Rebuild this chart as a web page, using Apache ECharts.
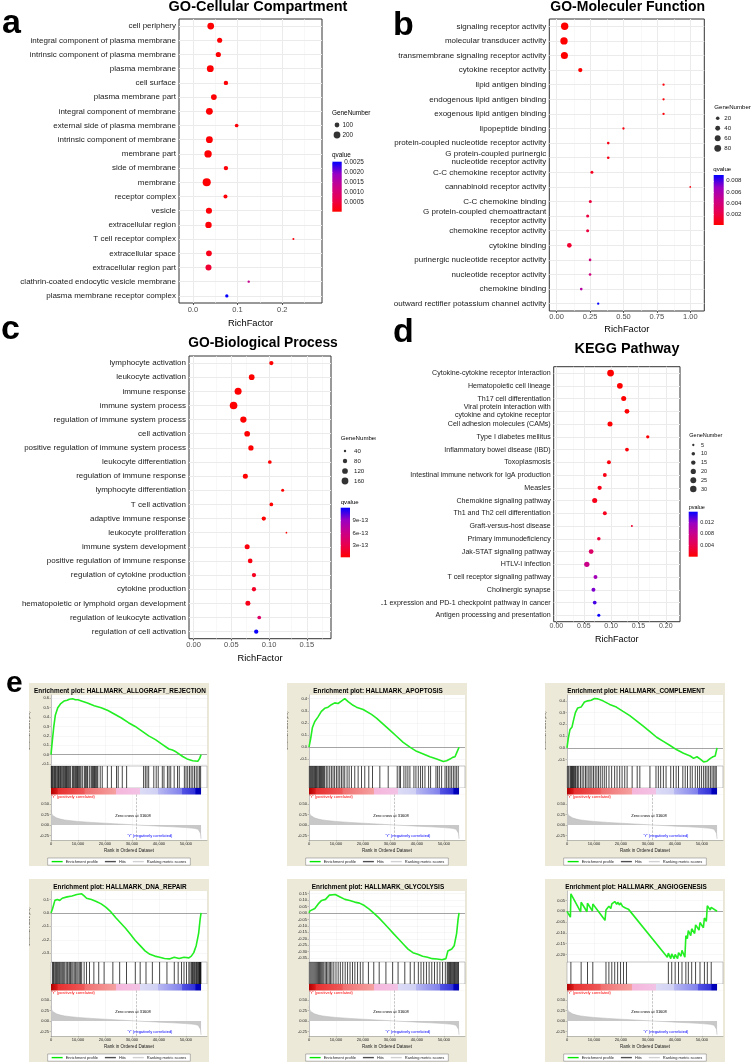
<!DOCTYPE html>
<html><head><meta charset="utf-8">
<script src="https://cdn.jsdelivr.net/npm/echarts@6/dist/echarts.min.js"></script>
<style>
html,body{margin:0;padding:0;background:#fff;width:752px;height:1063px;overflow:hidden}
.p{position:absolute;overflow:hidden}
</style></head><body>
<div id="pa" class="p" style="left:0;top:0;width:376px;height:330px"></div>
<div id="pb" class="p" style="left:394px;top:0;width:358px;height:340px"></div>
<div id="pc" class="p" style="left:0;top:320px;width:376px;height:345px"></div>
<div id="pd" class="p" style="left:381px;top:320px;width:371px;height:345px"></div>
<div id="e1" class="p" style="left:29px;top:683px;width:180px;height:183px"></div>
<div id="e2" class="p" style="left:287px;top:683px;width:180px;height:183px"></div>
<div id="e3" class="p" style="left:545px;top:683px;width:180px;height:183px"></div>
<div id="e4" class="p" style="left:29px;top:879px;width:180px;height:183px"></div>
<div id="e5" class="p" style="left:287px;top:879px;width:180px;height:183px"></div>
<div id="e6" class="p" style="left:545px;top:879px;width:180px;height:183px"></div>
<div id="letters" class="p" style="left:0;top:0;width:752px;height:1063px;pointer-events:none;z-index:10"></div>
<script>
// ================= DATA =================
// Panel a: GO-Cellular Compartment
const aTerms = ['cell periphery','integral component of plasma membrane','intrinsic component of plasma membrane','plasma membrane','cell surface','plasma membrane part','integral component of membrane','external side of plasma membrane','intrinsic component of membrane','membrane part','side of membrane','membrane','receptor complex','vesicle','extracellular region','T cell receptor complex','extracellular space','extracellular region part','clathrin-coated endocytic vesicle membrane','plasma membrane receptor complex'];
const aRich = [0.040,0.060,0.057,0.039,0.074,0.047,0.037,0.098,0.037,0.034,0.074,0.031,0.073,0.036,0.035,0.225,0.036,0.035,0.125,0.076];
const aGenes = [200,115,118,205,85,145,205,60,205,240,85,290,72,165,180,18,145,160,24,48];
const aQ = [0.00002,0.00003,0.00003,0.00002,0.00005,0.00003,0.00003,0.00008,0.00003,0.00003,0.00006,0.00002,0.00008,0.00006,0.00006,0.0001,0.0002,0.0004,0.0013,0.0025];
const aXTicks = [0, 0.1, 0.2];
const aSizeBreaks = [100, 200];
const aColorTicks = [0.0005, 0.0010, 0.0015, 0.0020, 0.0025];

// Panel b: GO-Molecular Function
const bTerms = ['signaling receptor activity','molecular transducer activity','transmembrane signaling receptor activity','cytokine receptor activity','lipid antigen binding','endogenous lipid antigen binding','exogenous lipid antigen binding','lipopeptide binding','G protein-coupled nucleotide receptor activity','G protein-coupled purinergic\nnucleotide receptor activity','C-C chemokine receptor activity','cannabinoid receptor activity','C-C chemokine binding','G protein-coupled chemoattractant\nreceptor activity','chemokine receptor activity','cytokine binding','purinergic nucleotide receptor activity','nucleotide receptor activity','chemokine binding','outward rectifier potassium channel activity'];
const bRich = [0.060,0.055,0.058,0.177,0.80,0.80,0.80,0.50,0.386,0.386,0.264,1.00,0.252,0.232,0.232,0.095,0.25,0.25,0.184,0.311];
const bGenes = [95,95,88,30,6,6,6,6,9,9,13,2,13,13,13,36,9,9,9,6];
const bQ = [0.000001,0.000001,0.000001,0.00002,0.0003,0.0003,0.0003,0.0004,0.0006,0.0006,0.0009,0.0005,0.0018,0.0018,0.0018,0.0014,0.004,0.004,0.0055,0.009];
const bXTicks = [0, 0.25, 0.5, 0.75, 1];
const bSizeBreaks = [20, 40, 60, 80];
const bColorTicks = [0.002, 0.004, 0.006, 0.008];

// Panel c: GO-Biological Process
const cTerms = ['lymphocyte activation','leukocyte activation','immune response','immune system process','regulation of immune system process','cell activation','positive regulation of immune system process','leukocyte differentiation','regulation of immune response','lymphocyte differentiation','T cell activation','adaptive immune response','leukocyte proliferation','immune system development','positive regulation of immune response','regulation of cytokine production','cytokine production','hematopoietic or lymphoid organ development','regulation of leukocyte activation','regulation of cell activation'];
const cRich = [0.103,0.077,0.059,0.053,0.066,0.071,0.076,0.101,0.0686,0.118,0.103,0.093,0.123,0.071,0.075,0.080,0.080,0.072,0.087,0.083];
const cGenes = [78,119,168,195,140,119,106,64,97,50,64,78,32,97,88,78,78,97,64,78];
const cQ = [1e-16,1e-16,1e-16,1e-16,1e-16,1e-16,1e-15,1e-15,1e-15,2e-15,2e-15,5e-15,1e-14,5e-14,6e-14,1.2e-13,1.5e-13,1e-13,4.3e-13,1.2e-12];
const cXTicks = [0, 0.05, 0.1, 0.15];
const cSizeBreaks = [40, 80, 120, 160];
const cColorTicks = [3e-13, 6e-13, 9e-13];

// Panel d: KEGG Pathway
const dTerms = ['Cytokine-cytokine receptor interaction','Hematopoietic cell lineage','Th17 cell differentiation','Viral protein interaction with\ncytokine and cytokine receptor','Cell adhesion molecules (CAMs)','Type I diabetes mellitus','Inflammatory bowel disease (IBD)','Toxoplasmosis','Intestinal immune network for IgA production','Measles','Chemokine signaling pathway','Th1 and Th2 cell differentiation','Graft-versus-host disease','Primary immunodeficiency','Jak-STAT signaling pathway','HTLV-I infection','T cell receptor signaling pathway','Cholinergic synapse','PD-L1 expression and PD-1 checkpoint pathway in cancer','Antigen processing and presentation'];
const dRich = [0.099,0.116,0.123,0.129,0.098,0.167,0.129,0.096,0.0885,0.079,0.070,0.0885,0.138,0.0775,0.0635,0.0556,0.0714,0.0677,0.070,0.0775];
const dGenes = [33,24,19,17,19,9,11,12,12,14,19,12,4,10,17,21,12,12,11,8];
const dP = [0.000001,0.00001,0.00001,0.0001,0.0002,0.0003,0.0004,0.0006,0.001,0.0012,0.0013,0.0015,0.0024,0.003,0.0055,0.0078,0.011,0.0125,0.014,0.0155];
const dXTicks = [0, 0.05, 0.1, 0.15, 0.2];
const dSizeBreaks = [5, 10, 15, 20, 25, 30];
const dColorTicks = [0.004, 0.008, 0.012];

// Panel e: GSEA enrichment plots
const gseaTitles = ['Enrichment plot: HALLMARK_ALLOGRAFT_REJECTION','Enrichment plot: HALLMARK_APOPTOSIS','Enrichment plot: HALLMARK_COMPLEMENT','Enrichment plot: HALLMARK_DNA_REPAIR','Enrichment plot: HALLMARK_GLYCOLYSIS','Enrichment plot: HALLMARK_ANGIOGENESIS'];
const rankTicks = [0, 10000, 20000, 30000, 40000, 50000];
const rankedTicks = [-0.25, 0, 0.25, 0.5];
const zeroCross = 31608;
const rankedMetric = [[0,0.36],[60,0.31],[200,0.27],[500,0.235],[1000,0.205],[2000,0.17],[3500,0.14],[5000,0.122],[7500,0.1],[10000,0.085],[15000,0.062],[20000,0.043],[25000,0.025],[31608,0],[36000,-0.014],[40000,-0.027],[45000,-0.043],[50000,-0.062],[53000,-0.08],[54500,-0.1],[55100,-0.14],[55400,-0.2],[55600,-0.33]];

const esAllograft = [[0,0],[500,0.15],[1000,0.29],[1600,0.42],[2500,0.50],[3500,0.54],[4800,0.57],[5500,0.59],[6000,0.58],[6800,0.59],[7300,0.58],[8000,0.595],[9000,0.585],[10000,0.585],[11000,0.575],[13500,0.55],[16000,0.52],[18600,0.50],[21100,0.47],[23600,0.43],[26100,0.39],[28700,0.34],[31200,0.30],[33700,0.25],[36200,0.20],[38700,0.16],[41200,0.11],[43700,0.06],[45000,0.05],[46300,0.03],[48800,-0.02],[50700,-0.05],[52500,-0.065],[54400,-0.07],[55100,-0.04],[55600,0]];
const esApoptosis = [[0,0],[620,0.07],[1240,0.16],[2100,0.21],[3340,0.25],[4580,0.295],[5820,0.32],[7060,0.33],[8300,0.35],[9530,0.365],[10770,0.36],[12000,0.38],[13250,0.40],[14490,0.375],[16340,0.345],[17580,0.33],[20060,0.31],[23150,0.27],[25000,0.24],[27480,0.19],[29960,0.14],[32440,0.09],[34900,0.04],[37390,0.0],[39860,-0.034],[42340,-0.056],[44800,-0.079],[47300,-0.098],[49770,-0.118],[51000,-0.112],[52240,-0.098],[53230,-0.084],[54100,-0.079],[54900,-0.037],[55600,0]];
const esComplement = [[0,0],[500,0.085],[1120,0.157],[1870,0.178],[2360,0.23],[3110,0.30],[3980,0.34],[5220,0.347],[6470,0.39],[7710,0.40],[8960,0.405],[10200,0.42],[11440,0.417],[13310,0.40],[15800,0.37],[18290,0.347],[20770,0.31],[23260,0.274],[25750,0.23],[28240,0.184],[30730,0.137],[33210,0.09],[35700,0.055],[38190,0.02],[40680,-0.017],[43170,-0.047],[45650,-0.07],[46900,-0.09],[48140,-0.076],[49390,-0.096],[50630,-0.12],[51880,-0.114],[53120,-0.09],[54110,-0.076],[54900,-0.07],[55600,0]];
const esDnaRepair = [[0,0],[542,0.03],[1444,0.094],[2347,0.10],[3249,0.094],[4152,0.11],[5957,0.12],[7762,0.127],[9568,0.138],[11373,0.143],[12275,0.127],[13178,0.11],[14983,0.10],[16788,0.086],[18593,0.068],[20399,0.042],[22204,0.008],[24009,-0.036],[25814,-0.075],[27619,-0.114],[29425,-0.158],[31230,-0.205],[33035,-0.244],[34840,-0.283],[36645,-0.309],[38451,-0.322],[40256,-0.33],[42061,-0.34],[43866,-0.343],[45671,-0.33],[47477,-0.34],[49282,-0.33],[51087,-0.335],[51990,-0.322],[52892,-0.296],[53795,-0.244],[54697,-0.153],[55239,-0.05],[55600,0]];
const esGlycolysis = [[0,0],[360,0.016],[1079,0.03],[2159,0.035],[3418,0.07],[4678,0.097],[6117,0.105],[7556,0.138],[8276,0.151],[9715,0.143],[11515,0.124],[13314,0.105],[15113,0.097],[16912,0.084],[18711,0.076],[20510,0.057],[22309,0.03],[24108,-0.003],[25907,-0.038],[27706,-0.078],[29505,-0.119],[31304,-0.16],[33103,-0.2],[34902,-0.24],[36701,-0.28],[38500,-0.308],[40299,-0.32],[42098,-0.335],[43897,-0.343],[45696,-0.354],[47495,-0.357],[49294,-0.362],[50733,-0.354],[51453,-0.295],[52892,-0.28],[53792,-0.254],[54691,-0.16],[55230,-0.05],[55600,0]];
const esAngiogenesis = [[0,0],[1264,-0.027],[1444,0.081],[5054,-0.003],[5235,0.042],[7400,-0.002],[7581,0.037],[9386,0.002],[9567,0.034],[14079,-0.042],[14440,0.006],[15162,-0.003],[15523,0.023],[16245,0.013],[16606,0.034],[17328,0.026],[17689,0.045],[18411,0.032],[18772,0.042],[19494,0.029],[19855,0.039],[20577,0.023],[20938,0.029],[21660,0.015],[22021,0.023],[22743,0.01],[37183,-0.213],[37544,-0.194],[38447,-0.219],[38808,-0.197],[39710,-0.219],[40071,-0.2],[40974,-0.219],[41335,-0.192],[42237,-0.208],[42598,-0.181],[43681,-0.213],[44042,-0.113],[44584,-0.127],[44945,-0.09],[45847,-0.113],[46208,-0.081],[47291,-0.103],[47652,-0.063],[48916,-0.087],[49277,-0.052],[50540,-0.076],[50901,-0.031],[51623,-0.047],[51984,0.026],[53067,0.006],[53428,0.018],[55600,0]];

const hitsAllograft = [150,380,620,1000,1300,1630,1900,2260,2550,2800,3100,3520,3800,4150,4500,4780,5100,5400,5750,6000,6300,6600,6950,7300,7920,8250,8550,8900,9180,9500,9800,10100,10430,10750,11100,11600,12320,12650,12950,13300,13580,14200,14830,15150,15460,15800,16090,16400,16720,17050,17350,18230,18980,20870,22370,24260,24890,26400,28030,34320,34940,35570,36200,38090,38970,39720,41230,41860,43120,43740,44370,45630,46890,47520,49400,50030,50660,51290,51910,52540,53170,53800,54430,55060,55450];
const hitsApoptosis = [250,500,870,1200,1490,1800,2100,2400,2720,3000,3340,3700,3960,4300,4580,4900,5200,5500,5820,6400,7000,7680,8290,8900,9500,10150,10770,11390,12010,12630,13250,14110,14860,15720,16960,18200,19440,20670,22160,23520,26250,29340,32680,33430,33920,35160,35900,36640,37390,38870,39620,40480,41350,42090,42960,44320,45060,47040,47660,48280,49150,50390,51010,51620,52240,52860,53480,54100,54720,55300];
const hitsComplement = [250,620,1120,1400,1620,1900,2110,2400,2740,3100,3360,3860,4350,5000,5600,6220,6840,7400,8090,8580,9210,9830,10450,11070,11690,12320,13060,13810,14550,15550,16550,17660,18540,19530,20400,21400,22270,24130,26000,26990,30730,32970,33830,34710,35700,36700,38440,39430,40430,41300,42920,43790,44660,45650,46400,47520,48390,49140,49880,50630,51250,51870,52500,53120,53740,54370,54860,55300];
const hitsDnaRepair = [542,903,1200,1625,2000,2347,2700,3069,3400,3791,4200,4693,5100,5596,6000,6318,6800,7220,7700,8123,8600,9025,9567,10000,10469,10900,11372,12274,13177,14260,15884,17689,19675,22924,25451,27978,31227,33032,35198,37544,40252,42960,45667,47111,48375,49277,50180,51082,51500,51985,52300,52526,52887,53100,53429,53790,54000,54331,54692,54900,55053,55250,55414,55550];
const hitsGlycolysis = [300,700,1100,1500,1900,2300,2700,3100,3500,3900,4300,4700,5100,5500,6000,6500,7000,7500,8000,8500,9200,10000,10800,11600,12500,13400,14300,15200,16100,17000,18000,19000,20000,22000,24000,26000,28500,31000,33000,35500,37500,39000,40500,41500,42500,43500,44500,45500,46500,47500,48500,49500,50500,51200,51500,51800,52100,52400,52700,53000,53300,53600,53900,54200,54500,54800,55100,55400];
const hitsAngiogenesis = [1444,5235,7581,9567,14440,15523,16606,17689,18772,19855,20938,22021,37544,38808,40071,41335,42598,44042,44945,46208,47652,49277,50901,51984,53428];

// ================= STYLE / HELPERS =================
const FONT = '"Liberation Sans", Arial, Helvetica, sans-serif';
const RB = ['#FF0000','#E8004F','#CA0089','#9A00C3','#0000FF'];
function txt(x, y, text, size, opts) {
  opts = opts || {};
  return { type:'text', silent:true, z:50, style:{ x:x, y:y, text:text, fill: opts.color || '#000',
    font: (opts.bold ? 'bold ' : '') + size + 'px ' + FONT,
    textAlign: opts.align || 'left', align: opts.align || 'left',
    textVerticalAlign: 'middle', verticalAlign: 'middle' } };
}
function G(o) { return Object.assign({ outerBoundsMode: 'none', containLabel: false }, o); }

function dotPlot(id, P) {
  const ch = echarts.init(document.getElementById(id));
  const size = n => Math.sqrt(Math.max(P.sA + P.sB * n, 0.6));
  const pts = P.terms.map((t, i) => [P.rich[i], t, P.genes[i], P.q[i]]);
  const step = P.xTicks[1] - P.xTicks[0];
  const minor = [];
  for (let k = -2; k < 40; k++) {
    const v = P.xTicks[0] + (k + 0.5) * step;
    if (v > P.xMin && v < P.xMax) minor.push(+v.toFixed(6));
  }
  const gridLines = P.xTicks.map(v => ({ xAxis: v, lineStyle: { color: '#EBEBEB', width: 1, type: 'solid' } }))
    .concat(minor.map(v => ({ xAxis: v, lineStyle: { color: '#F3F3F3', width: 0.6, type: 'solid' } })))
    .concat(P.terms.map(t => ({ yAxis: t, lineStyle: { color: '#EBEBEB', width: 1, type: 'solid' } })));
  const L = P.leg, C = P.cbar;
  const cbarGrad = { type:'linear', x:0, y:0, x2:0, y2:1, colorStops: RB.slice().reverse().map((c, i) => ({ offset: i / (RB.length - 1), color: c })) };
  ch.setOption({
    animation: false,
    textStyle: { fontFamily: FONT },
    graphic: [
      txt(P.title.x, P.title.y, P.title.text, P.title.size, { bold: true, align: 'center' }),
      txt(L.tx, L.ty, 'GeneNumber', P.legFont),
      txt(C.tx, C.ty, C.title, P.legFont)
    ],
    grid: [
      G({ left: P.grid.left, top: P.grid.top, width: P.grid.width, height: P.grid.height, show: true, backgroundColor: '#fff', borderColor: '#333333', borderWidth: 1 }),
      G({ left: L.x - 4, width: 8, top: L.y0 - L.dy / 2, height: L.dy * P.breaks.length, show: false }),
      G({ left: C.x, top: C.y, width: C.w, height: C.h, show: true, borderWidth: 0, backgroundColor: cbarGrad })
    ],
    xAxis: [
      { gridIndex: 0, type: 'value', min: P.xMin, max: P.xMax,
        axisLine: { show: false }, splitLine: { show: false },
        axisTick: { show: true, length: 2, customValues: P.xTicks, lineStyle: { color: '#333', width: 0.8 } },
        axisLabel: { customValues: P.xTicks, formatter: v => v.toFixed(P.xDec), fontSize: P.tickFont, color: '#4D4D4D', margin: P.xMargin, fontFamily: FONT },
        name: 'RichFactor', nameLocation: 'middle', nameGap: P.nameGap, nameTextStyle: { fontSize: P.nameFont, color: '#000', fontFamily: FONT } },
      { gridIndex: 1, type: 'value', min: 0, max: 1, show: false },
      { gridIndex: 2, type: 'value', min: 0, max: 1, show: false }
    ],
    yAxis: [
      { gridIndex: 0, type: 'category', data: P.terms, inverse: true,
        axisLine: { show: false }, splitLine: { show: false },
        axisTick: { show: true, alignWithLabel: true, length: 2, lineStyle: { color: '#333', width: 0.8 } },
        axisLabel: { fontSize: P.labFont, color: '#1A1A1A', margin: 3, lineHeight: P.labFont + 0.5, interval: 0, fontFamily: FONT } },
      { gridIndex: 1, type: 'category', data: P.breaks.map(String), inverse: true, position: 'right',
        axisLine: { show: false }, axisTick: { show: false }, splitLine: { show: false },
        axisLabel: { fontSize: P.legFont, color: '#1A1A1A', margin: L.lx - (L.x + 4), fontFamily: FONT } },
      { gridIndex: 2, type: 'value', min: C.min, max: C.max, position: 'right',
        axisLine: { show: false }, splitLine: { show: false },
        axisTick: { show: true, inside: true, length: 2, customValues: C.ticks, lineStyle: { color: '#fff', width: 0.8 } },
        axisLabel: { customValues: C.ticks, formatter: C.fmt, fontSize: P.legFont, color: '#1A1A1A', margin: 2.5, fontFamily: FONT } }
    ],
    visualMap: { type: 'continuous', show: false, seriesIndex: 1, dimension: 3, min: C.min, max: C.max, inRange: { color: RB } },
    series: [
      { type: 'scatter', xAxisIndex: 0, yAxisIndex: 0, data: [], silent: true, z: 1,
        markLine: { silent: true, z: 1, symbol: ['none', 'none'], label: { show: false }, animation: false, data: gridLines } },
      { type: 'scatter', xAxisIndex: 0, yAxisIndex: 0, data: pts, z: 3, symbol: 'circle',
        symbolSize: v => size(v[2]), itemStyle: { opacity: 1 } },
      { type: 'scatter', xAxisIndex: 1, yAxisIndex: 1, z: 3, symbol: 'circle',
        data: P.breaks.map(b => [0.5, String(b), b]), symbolSize: v => size(v[2]), itemStyle: { color: '#000' } },
      { type: 'scatter', xAxisIndex: 2, yAxisIndex: 2, data: [] }
    ]
  });
}

dotPlot('pa', {
  terms: aTerms, rich: aRich, genes: aGenes, q: aQ, breaks: aSizeBreaks,
  xTicks: aXTicks, xMin: -0.031, xMax: 0.289, xDec: 1,
  grid: { left: 179, top: 19, width: 143, height: 284 },
  title: { text: 'GO-Cellular Compartment', x: 258, y: 7.4, size: 14.5 },
  sA: 0, sB: 0.228, labFont: 8, tickFont: 7.5, xMargin: 3, nameGap: 11, nameFont: 9.3, legFont: 6.4,
  leg: { x: 337, y0: 125, dy: 10, lx: 342.5, tx: 332, ty: 113 },
  cbar: { x: 332.3, y: 161.7, w: 9.4, h: 50, min: 0, max: 0.00252, ticks: aColorTicks, fmt: v => v.toFixed(4), title: 'qvalue', tx: 332, ty: 155.7 }
});
dotPlot('pb', {
  terms: bTerms, rich: bRich, genes: bGenes, q: bQ, breaks: bSizeBreaks,
  xTicks: bXTicks, xMin: -0.055, xMax: 1.105, xDec: 2,
  grid: { left: 155.3, top: 19, width: 155, height: 292 },
  title: { text: 'GO-Moleculer Function', x: 233.7, y: 7.4, size: 14 },
  sA: 2, sB: 0.55, labFont: 8, tickFont: 7.5, xMargin: 1.5, nameGap: 10.5, nameFont: 9.3, legFont: 6.1,
  leg: { x: 323.7, y0: 118.3, dy: 10, lx: 330.3, tx: 320.3, ty: 107.7 },
  cbar: { x: 319.7, y: 175, w: 10, h: 50, min: 0, max: 0.00905, ticks: bColorTicks, fmt: v => v.toFixed(3), title: 'qvalue', tx: 319.3, ty: 169.3 }
});
dotPlot('pc', {
  terms: cTerms, rich: cRich, genes: cGenes, q: cQ, breaks: cSizeBreaks,
  xTicks: cXTicks, xMin: -0.006, xMax: 0.182, xDec: 2,
  grid: { left: 189, top: 36, width: 142, height: 282.7 },
  title: { text: 'GO-Biological Process', x: 263, y: 23.3, size: 13.8 },
  sA: -8, sB: 0.34, labFont: 8, tickFont: 7.5, xMargin: 2.5, nameGap: 12.5, nameFont: 9.3, legFont: 6.1,
  leg: { x: 345, y0: 131, dy: 10, lx: 354, tx: 340.7, ty: 118.3 },
  cbar: { x: 340.7, y: 187.7, w: 9.3, h: 49.6, min: 0, max: 1.22e-12, ticks: cColorTicks, fmt: v => Math.round(v / 1e-13) + 'e-13', title: 'qvalue', tx: 340.7, ty: 182.3 }
});
dotPlot('pd', {
  terms: dTerms, rich: dRich, genes: dGenes, q: dP, breaks: dSizeBreaks,
  xTicks: dXTicks, xMin: -0.005, xMax: 0.226, xDec: 2,
  grid: { left: 172.7, top: 46.7, width: 126.3, height: 255 },
  title: { text: 'KEGG Pathway', x: 246, y: 29.3, size: 14.4 },
  sA: -2, sB: 1.45, labFont: 7.1, tickFont: 7, xMargin: 1, nameGap: 9, nameFont: 9, legFont: 5.5,
  leg: { x: 312.3, y0: 125, dy: 8.8, lx: 320, tx: 308.3, ty: 115 },
  cbar: { x: 307.7, y: 191.7, w: 9, h: 45, min: 0, max: 0.0157, ticks: dColorTicks, fmt: v => v.toFixed(3), title: 'pvalue', tx: 307.7, ty: 187.3 }
});

// ================= GSEA =================
const XMAX = 57800, NRANK = 55600;
const BAR_STOPS = [[0,'#B00000'],[0.04,'#D81818'],[0.05,'#E83030'],[0.22,'#EE5858'],[0.23,'#F07070'],[0.43,'#F5A0A0'],[0.435,'#F6B6DC'],[0.59,'#F2C2E4'],[0.595,'#DCDCF6'],[0.71,'#D0D0F4'],[0.715,'#B8B8F2'],[0.87,'#8080EC'],[0.875,'#5454E4'],[0.96,'#3030D8'],[0.965,'#0000C0'],[1,'#0000B0']];
function gsea(id, Gs) {
  const ch = echarts.init(document.getElementById(id));
  const gl = 22, gw = 156;
  const tiny = 4;
  const hx = (gi, extra) => Object.assign({ gridIndex: gi, type: 'value', min: 0, max: XMAX, interval: 10000,
    axisLine: { show: false }, axisTick: { show: false }, axisLabel: { show: false }, splitLine: { show: false } }, extra || {});
  const gridDot = { show: true, lineStyle: { color: '#DDDDDD', width: 0.5, type: 'dotted' } };
  ch.setOption({
    animation: false,
    backgroundColor: '#ECE9D8',
    textStyle: { fontFamily: FONT },
    graphic: [
      txt(91, 8, Gs.title, 6.4, { bold: true, align: 'center' }),
      txt(gl + 0.5, 114, "'Y' (positively correlated)", tiny, { color: '#FF0000' }),
      txt(104, 133, 'Zero cross at ' + zeroCross, tiny, { align: 'center' }),
      txt(121, 152.5, "'Y' (negatively correlated)", tiny, { color: '#0000FF', align: 'center' })
    ],
    grid: [
      G({ left: gl, top: 12, width: gw, height: 71, show: true, backgroundColor: '#fff', borderWidth: 0 }),
      G({ left: gl, top: 83, width: gw, height: 22, show: true, backgroundColor: '#fff', borderColor: '#A0A0A0', borderWidth: 0.6 }),
      G({ left: gl, top: 105, width: gw, height: 6.5, show: true, backgroundColor: '#fff', borderWidth: 0 }),
      G({ left: gl, top: 111.5, width: gw, height: 45.5, show: true, backgroundColor: '#fff', borderWidth: 0 })
    ],
    xAxis: [
      hx(0, { splitLine: gridDot }),
      hx(1),
      hx(2),
      hx(3, { splitLine: gridDot, axisLine: { show: true, onZero: false, lineStyle: { color: '#888', width: 0.5 } },
        axisTick: { show: true, length: 1.5, customValues: rankTicks, lineStyle: { color: '#888', width: 0.5 } },
        axisLabel: { show: true, customValues: rankTicks, formatter: v => v.toLocaleString('en-US'), fontSize: tiny, color: '#222', margin: 2, fontFamily: FONT },
        name: 'Rank in Ordered Dataset', nameLocation: 'middle', nameGap: 8, nameTextStyle: { fontSize: 4.5, color: '#222', fontFamily: FONT } })
    ],
    yAxis: [
      { gridIndex: 0, type: 'value', min: Gs.esMin, max: Gs.esMax,
        axisLine: { show: true, lineStyle: { color: '#888', width: 0.5 } }, splitLine: { show: false },
        axisTick: { show: true, length: 1.5, customValues: Gs.esTicks, lineStyle: { color: '#888', width: 0.5 } },
        axisLabel: { customValues: Gs.esTicks, formatter: v => v.toFixed(Gs.dec), fontSize: tiny, color: '#222', margin: 2, fontFamily: FONT },
        name: 'Enrichment score (ES)', nameLocation: 'middle', nameGap: 12, nameRotate: 90, nameTextStyle: { fontSize: 3.8, color: '#222', fontFamily: FONT } },
      { gridIndex: 1, type: 'value', min: 0, max: 1, show: false },
      { gridIndex: 2, type: 'value', min: 0, max: 1, show: false },
      { gridIndex: 3, type: 'value', min: -0.357, max: 0.726,
        axisLine: { show: true, lineStyle: { color: '#888', width: 0.5 } }, splitLine: { show: false },
        axisTick: { show: true, length: 1.5, customValues: rankedTicks, lineStyle: { color: '#888', width: 0.5 } },
        axisLabel: { customValues: rankedTicks, formatter: v => v.toFixed(2), fontSize: tiny, color: '#222', margin: 2, fontFamily: FONT },
        name: 'Ranked list metric (Signal2Noise)', nameLocation: 'middle', nameGap: 12, nameRotate: 90, nameTextStyle: { fontSize: 3.8, color: '#222', fontFamily: FONT } }
    ],
    legend: {
      top: 175, left: 'center', itemWidth: 11, itemHeight: 1.4, itemGap: 7, selectedMode: false,
      backgroundColor: '#fff', borderColor: '#8A8A8A', borderWidth: 0.6, padding: [1.6, 4],
      textStyle: { fontSize: 4, color: '#222', fontFamily: FONT, padding: [0, 0, 0, -2] },
      data: [
        { name: 'Enrichment profile', icon: 'rect', itemStyle: { color: '#00E600' } },
        { name: 'Hits', icon: 'rect', itemStyle: { color: '#222' } },
        { name: 'Ranking metric scores', icon: 'rect', itemStyle: { color: '#D0D0D0' } }
      ]
    },
    series: [
      { name: 'Enrichment profile', type: 'line', xAxisIndex: 0, yAxisIndex: 0, data: Gs.es, symbol: 'none', z: 3,
        lineStyle: { color: '#22EE22', width: 1.6 }, itemStyle: { color: '#00E600' },
        markLine: { silent: true, z: 1, symbol: ['none', 'none'], label: { show: false }, animation: false,
          data: Gs.esTicks.filter(v => v !== 0).map(v => ({ yAxis: v, lineStyle: { color: '#DDDDDD', width: 0.5, type: 'dotted' } }))
            .concat([{ yAxis: 0, lineStyle: { color: '#9A9A9A', width: 0.9, type: 'solid' } }]) } },
      { name: 'Hits', type: 'scatter', xAxisIndex: 1, yAxisIndex: 1, symbol: 'rect', symbolSize: [0.9, 22],
        data: Gs.hits.map(h => [h, 0.5]), itemStyle: { color: '#000', opacity: 0.8 } },
      { type: 'scatter', xAxisIndex: 2, yAxisIndex: 2, data: [], silent: true,
        markArea: { silent: true, z: 1, label: { show: false },
          itemStyle: { color: { type: 'linear', x: 0, y: 0, x2: 1, y2: 0, colorStops: BAR_STOPS.map(s => ({ offset: s[0], color: s[1] })) } },
          data: [[{ xAxis: 0, yAxis: 0 }, { xAxis: NRANK, yAxis: 1 }]] } },
      { name: 'Ranking metric scores', type: 'line', xAxisIndex: 3, yAxisIndex: 3, data: rankedMetric, symbol: 'none', z: 2,
        lineStyle: { color: '#B8B8B8', width: 0.5 }, areaStyle: { color: '#C8C8C8', opacity: 1 }, itemStyle: { color: '#D0D0D0' },
        markLine: { silent: true, z: 3, symbol: ['none', 'none'], label: { show: false }, animation: false,
          data: [{ xAxis: zeroCross, lineStyle: { color: '#A0A0A0', width: 0.6, type: 'dashed' } }] } }
    ]
  });
}
gsea('e1', { title: gseaTitles[0], es: esAllograft, hits: hitsAllograft, esMin: -0.121, esMax: 0.635, esTicks: [-0.1,0,0.1,0.2,0.3,0.4,0.5,0.6], dec: 1 });
gsea('e2', { title: gseaTitles[1], es: esApoptosis, hits: hitsApoptosis, esMin: -0.155, esMax: 0.43, esTicks: [-0.1,0,0.1,0.2,0.3,0.4], dec: 1 });
gsea('e3', { title: gseaTitles[2], es: esComplement, hits: hitsComplement, esMin: -0.155, esMax: 0.45, esTicks: [-0.1,0,0.1,0.2,0.3,0.4], dec: 1 });
gsea('e4', { title: gseaTitles[3], es: esDnaRepair, hits: hitsDnaRepair, esMin: -0.366, esMax: 0.164, esTicks: [-0.3,-0.2,-0.1,0,0.1], dec: 1 });
gsea('e5', { title: gseaTitles[4], es: esGlycolysis, hits: hitsGlycolysis, esMin: -0.38, esMax: 0.17, esTicks: [-0.35,-0.3,-0.25,-0.2,-0.15,-0.1,-0.05,0,0.05,0.1,0.15], dec: 2 });
gsea('e6', { title: gseaTitles[5], es: esAngiogenesis, hits: hitsAngiogenesis, esMin: -0.235, esMax: 0.094, esTicks: [-0.2,-0.15,-0.1,-0.05,0,0.05], dec: 2 });

// ================= PANEL LETTERS =================
const lt = echarts.init(document.getElementById('letters'));
lt.setOption({ animation: false, graphic: [
  txt(2, 23.2, 'a', 34, { bold: true }),
  txt(393, 25.2, 'b', 34, { bold: true }),
  txt(1, 329.2, 'c', 34, { bold: true }),
  txt(393, 332.2, 'd', 34, { bold: true }),
  txt(6, 684, 'e', 30, { bold: true })
] });
</script>
</body></html>
